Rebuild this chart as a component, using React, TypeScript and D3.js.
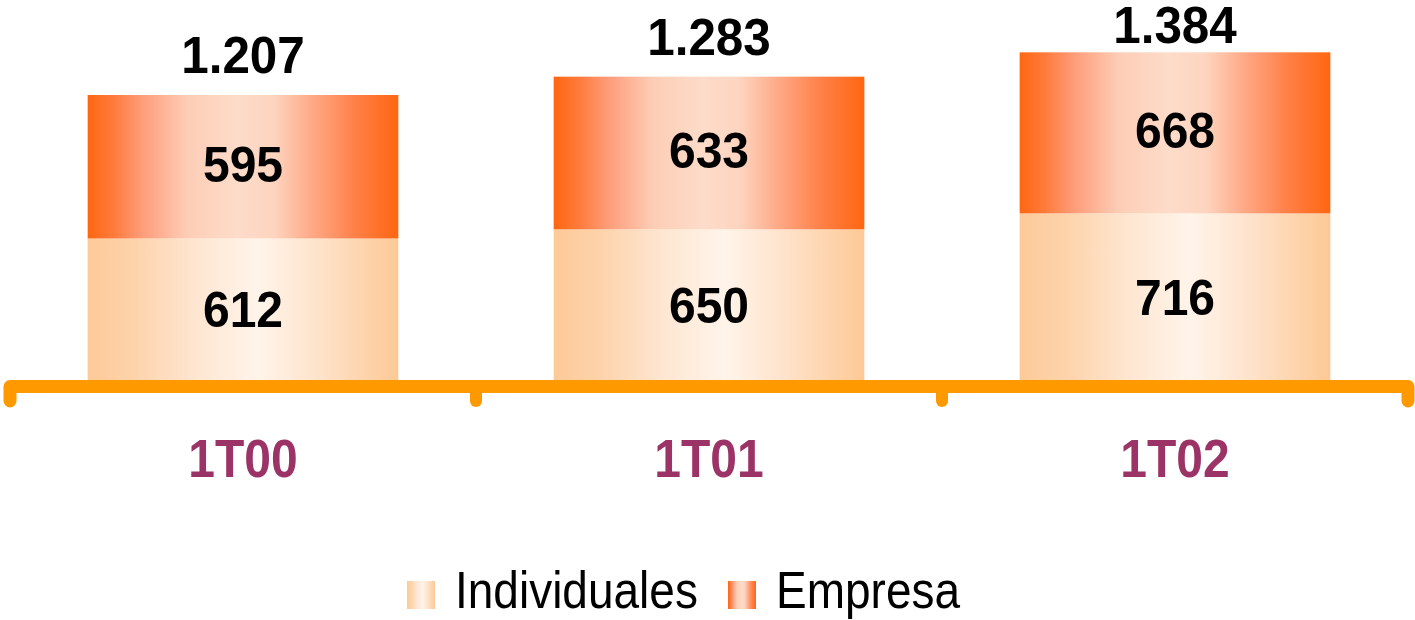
import * as d3 from "d3";

const categories = ["1T00", "1T01", "1T02"];
const individuales = [612, 650, 716];
const empresa = [595, 633, 668];
const totals = ["1.207", "1.283", "1.384"];
const seriesNames = ["Individuales", "Empresa"];

const W = 1415;
const H = 620;
const FONT = "'Liberation Sans', Arial, sans-serif";
const CAT_COLOR = "#9B3366";
const AXIS_COLOR = "#FF9900";

const lightStops: [number, string][] = [
  [0, "#FDCA99"],
  [0.15, "#FDD3AB"],
  [0.35, "#FEE6D1"],
  [0.55, "#FFF4EA"],
  [0.75, "#FEE2CA"],
  [1, "#FDC996"],
];
const darkStops: [number, string][] = [
  [0, "#FF6611"],
  [0.08, "#FF7A3A"],
  [0.18, "#FE9E7C"],
  [0.32, "#FDCDB6"],
  [0.48, "#FDDCC9"],
  [0.6, "#FDD4BF"],
  [0.72, "#FEAA88"],
  [0.86, "#FF8048"],
  [1, "#FF6611"],
];

export default function App() {
  const x = d3
    .scaleBand<string>()
    .domain(categories)
    .range([10, 1408])
    .paddingInner(1 / 3)
    .paddingOuter(1 / 6);
  const y = d3.scaleLinear().domain([0, 1400]).range([386, 386 - 1400 * 0.2411]);
  const bw = x.bandwidth();
  const axisY = 386.5;
  const step = x.step();
  const tickXs = d3.range(categories.length + 1).map((i) => 10 + i * step);

  return (
    <svg
      width={W}
      height={H}
      style={{ position: "absolute", left: 0, top: 0, background: "#fff" }}
    >
      <defs>
        <linearGradient id="gLight" x1="0" x2="1" y1="0" y2="0">
          {lightStops.map(([o, c]) => (
            <stop key={o} offset={o} stopColor={c} />
          ))}
        </linearGradient>
        <linearGradient id="gDark" x1="0" x2="1" y1="0" y2="0">
          {darkStops.map(([o, c]) => (
            <stop key={o} offset={o} stopColor={c} />
          ))}
        </linearGradient>
      </defs>

      {categories.map((c, i) => {
        const x0 = x(c)!;
        const cx = x0 + bw / 2;
        const yMid = y(individuales[i]);
        const yTop = y(individuales[i] + empresa[i]);
        const lowMid = (y(0) + yMid) / 2 - 3;
        const upMid = (yMid + yTop) / 2 - 3;
        // the tallest total sits against the top edge
        const totalBase = Math.max(yTop - 22, 43);
        return (
          <g key={c}>
            <rect x={x0} y={yMid} width={bw} height={y(0) - yMid} fill="url(#gLight)" />
            <rect x={x0} y={yTop} width={bw} height={yMid - yTop} fill="url(#gDark)" />
            <text
              transform={`translate(${cx},${lowMid + 18}) scale(1,1.06)`}
              textAnchor="middle"
              fontFamily={FONT}
              fontWeight="bold"
              fontSize={48}
              fill="#000"
            >
              {individuales[i]}
            </text>
            <text
              transform={`translate(${cx},${upMid + 18}) scale(1,1.06)`}
              textAnchor="middle"
              fontFamily={FONT}
              fontWeight="bold"
              fontSize={48}
              fill="#000"
            >
              {empresa[i]}
            </text>
            <text
              transform={`translate(${cx},${totalBase}) scale(1.03,1.06)`}
              textAnchor="middle"
              fontFamily={FONT}
              fontWeight="bold"
              fontSize={48}
              fill="#000"
            >
              {totals[i]}
            </text>
            <text
              transform={`translate(${cx},477) scale(1,1.13)`}
              textAnchor="middle"
              fontFamily={FONT}
              fontWeight="bold"
              fontSize={48}
              fill={CAT_COLOR}
            >
              {c}
            </text>
          </g>
        );
      })}

      {/* axis with bracket ticks */}
      <path
        d={`M${tickXs[0]},401 V${axisY} H${tickXs[tickXs.length - 1]} V401`}
        fill="none"
        stroke={AXIS_COLOR}
        strokeWidth={13}
        strokeLinejoin="round"
        strokeLinecap="round"
      />
      {tickXs.slice(1, -1).map((tx) => (
        <line
          key={tx}
          x1={tx}
          x2={tx}
          y1={axisY}
          y2={401}
          stroke={AXIS_COLOR}
          strokeWidth={12}
          strokeLinecap="round"
        />
      ))}

      {/* legend */}
      {seriesNames.map((s, i) => {
        const lx = i === 0 ? 407 : 728;
        return (
          <g key={s}>
            <rect
              x={lx}
              y={581}
              width={28}
              height={28}
              fill={i === 0 ? "url(#gLight)" : "url(#gDark)"}
            />
            <text
              transform={`translate(${lx + 48},608) scale(1,1.12)`}
              fontFamily={FONT}
              fontSize={46}
              fill="#000"
            >
              {s}
            </text>
          </g>
        );
      })}
    </svg>
  );
}
